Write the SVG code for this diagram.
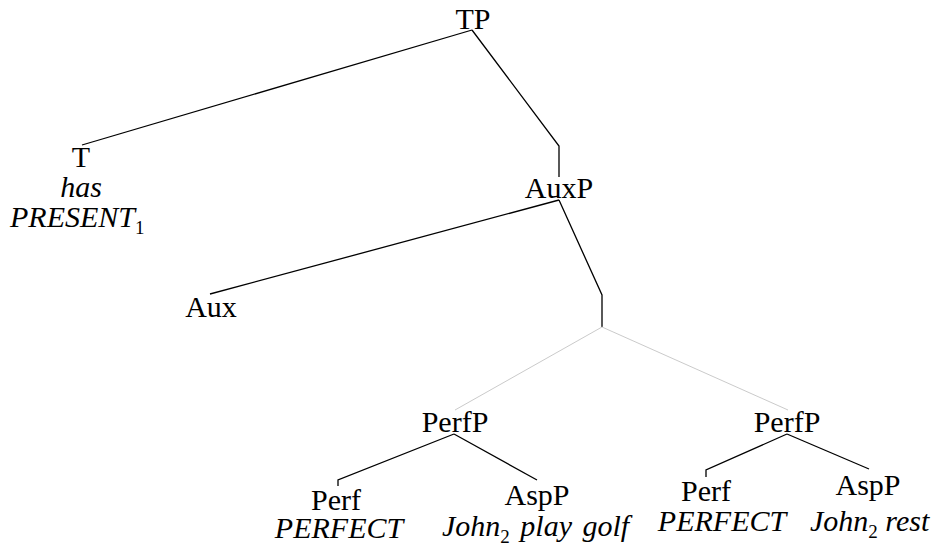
<svg xmlns="http://www.w3.org/2000/svg" width="939" height="550" viewBox="0 0 939 550">
<style>
.t{font-family:"Liberation Serif","Times New Roman",serif;font-size:30px;fill:#000;text-anchor:middle}
.i{font-style:italic}
.l{text-anchor:start}
.s{font-size:19px;font-style:normal}
.e{fill:none;stroke:#000;stroke-width:1.3}
.g{fill:none;stroke:#c4c4c4;stroke-width:0.9}
</style>
<rect width="939" height="550" fill="#fff"/>
<g id="connectors">
<path class="e" d="M472,30 L82,145"/>
<path class="e" d="M472,30 L559,146 L559,177"/>
<path class="e" d="M559,200 L210,294"/>
<path class="e" d="M559,200 L602,295 L602,327"/>
<path class="g" d="M602,327 L455,410"/>
<path class="g" d="M602,327 L788,410"/>
<path class="e" d="M454,434 L338,480 L338,486"/>
<path class="e" d="M454,434 L537,480"/>
<path class="e" d="M787,434 L706,470 L706,477"/>
<path class="e" d="M787,434 L869,469"/>
</g>
<g id="TP"><text class="t" x="473" y="29">TP</text></g>
<g id="T">
<text class="t" x="81" y="167">T</text>
<text class="t i" x="81" y="197">has</text>
<text class="t i l" x="10" y="227">PRESENT<tspan class="s" dy="7">1</tspan></text>
</g>
<g id="AuxP"><text class="t" x="559" y="198">AuxP</text></g>
<g id="Aux"><text class="t" x="211" y="317">Aux</text></g>
<g id="PerfP1"><text class="t" x="455" y="432">PerfP</text></g>
<g id="PerfP2"><text class="t" x="787" y="432">PerfP</text></g>
<g id="Perf1">
<text class="t" x="336" y="510">Perf</text>
<text class="t i" x="339" y="538">PERFECT</text>
</g>
<g id="AspP1">
<text class="t" x="537" y="505">AspP</text>
<text class="t i l" x="442" y="536">John<tspan class="s" dy="7">2</tspan><tspan dy="-7" style="word-spacing:3px"> play golf</tspan></text>
</g>
<g id="Perf2">
<text class="t" x="706" y="501">Perf</text>
<text class="t i" x="722" y="531">PERFECT</text>
</g>
<g id="AspP2">
<text class="t" x="868" y="495">AspP</text>
<text class="t i l" x="810" y="531">John<tspan class="s" dy="7">2</tspan><tspan dy="-7"> rest</tspan></text>
</g>
</svg>
